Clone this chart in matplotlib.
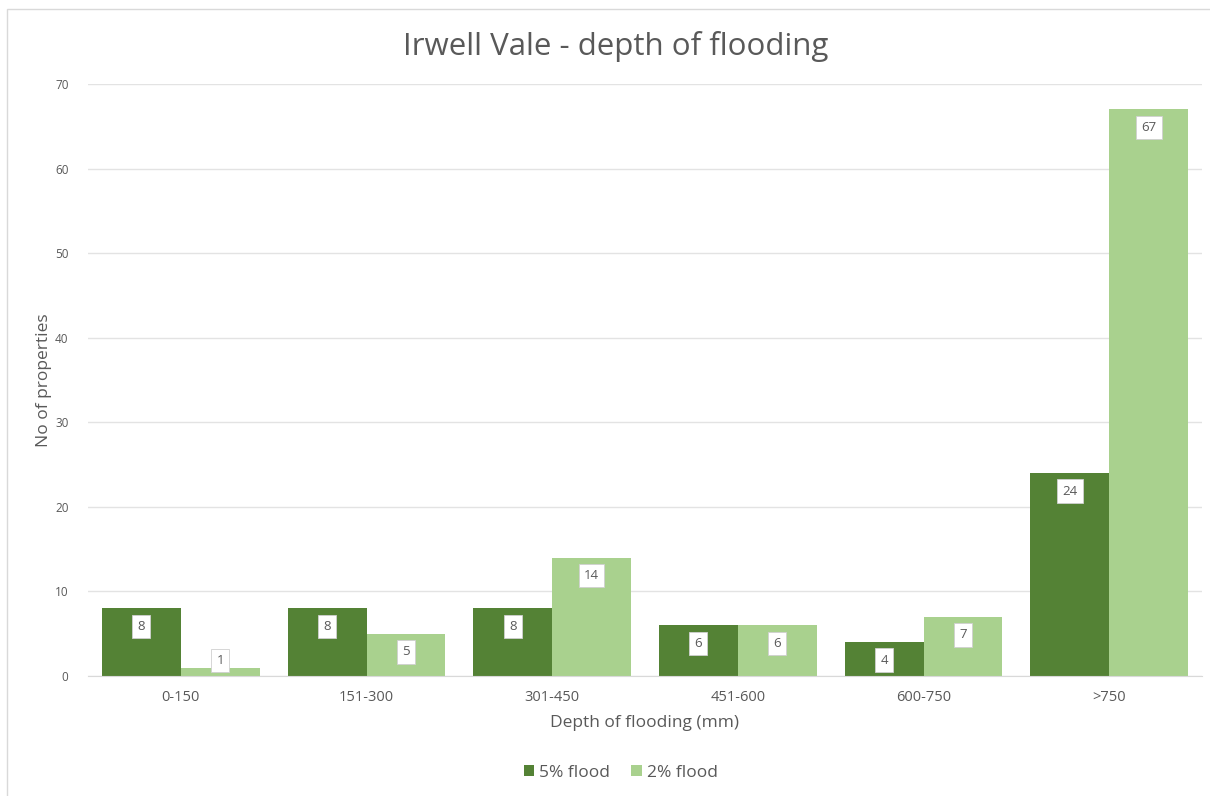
import matplotlib
matplotlib.use('Agg')
import matplotlib.pyplot as plt
from matplotlib.patches import Rectangle
import numpy as np

categories = ["0-150", "151-300", "301-450", "451-600", "600-750", ">750"]
flood_5pct = [8, 8, 8, 6, 4, 24]
flood_2pct = [1, 5, 14, 6, 7, 67]
yticks = [0, 10, 20, 30, 40, 50, 60, 70]

DARK = "#548235"
LIGHT = "#a9d18e"
TEXT = "#595959"

plt.rcParams['font.family'] = ['Open Sans', 'DejaVu Sans']

fig = plt.figure(figsize=(12.1, 7.96), dpi=100)
# chart area border like the excel chart frame
fig.patches.append(Rectangle((7 / 1210, -0.01), 1.0, 1 - 9 / 796 + 0.01,
                             transform=fig.transFigure, fill=False,
                             edgecolor="#d9d9d9", linewidth=1))
ax = fig.add_axes([88 / 1210, 1 - 676 / 796, (1202 - 88) / 1210, (676 - 84) / 796])

x = np.arange(len(categories))
w = 0.425
b1 = ax.bar(x - w / 2, flood_5pct, w, color=DARK, label="5% flood", zorder=2)
b2 = ax.bar(x + w / 2, flood_2pct, w, color=LIGHT, label="2% flood", zorder=2)

for bars in (b1, b2):
    for rect in bars:
        v = rect.get_height()
        off = -13 if v > 3 else 5
        ax.annotate(f"{v:g}", (rect.get_x() + rect.get_width() / 2, v),
                    xytext=(0, off), textcoords="offset points",
                    ha="center", va="center", fontsize=9.5, color=TEXT, zorder=3,
                    bbox=dict(boxstyle="square,pad=0.4", fc="white", ec="#d0d0d0", lw=0.6))

ax.set_xlim(-0.5, len(categories) - 0.5)
ax.set_ylim(0, 70)
ax.set_yticks(yticks)
ax.set_xticks(x)
ax.set_xticklabels(categories)
ax.yaxis.grid(True, color="#e3e3e3", linewidth=1, zorder=0)
ax.set_axisbelow(True)
for s in ["top", "right", "left"]:
    ax.spines[s].set_visible(False)
ax.spines["bottom"].set_color("#d9d9d9")
ax.tick_params(axis="both", length=0, colors=TEXT)
ax.tick_params(axis="y", labelsize=8.5, pad=14)
ax.tick_params(axis="x", labelsize=10.5, pad=10)

ax.set_xlabel("Depth of flooding (mm)", fontsize=12.5, color=TEXT, labelpad=7)
ax.set_ylabel("No of properties", fontsize=12.5, color=TEXT, labelpad=2)
fig.text(0.5085, 1 - 46 / 796, "Irwell Vale - depth of flooding", ha="center", va="center",
         fontsize=22.5, color=TEXT)

fig.legend(loc="center", bbox_to_anchor=(0.513, 1 - 773 / 796), ncol=2, frameon=False,
           fontsize=12.5, labelcolor=TEXT, handlelength=0.6, handleheight=0.6,
           handletextpad=0.3, columnspacing=1.2)

plt.savefig("out.png", dpi=100)
